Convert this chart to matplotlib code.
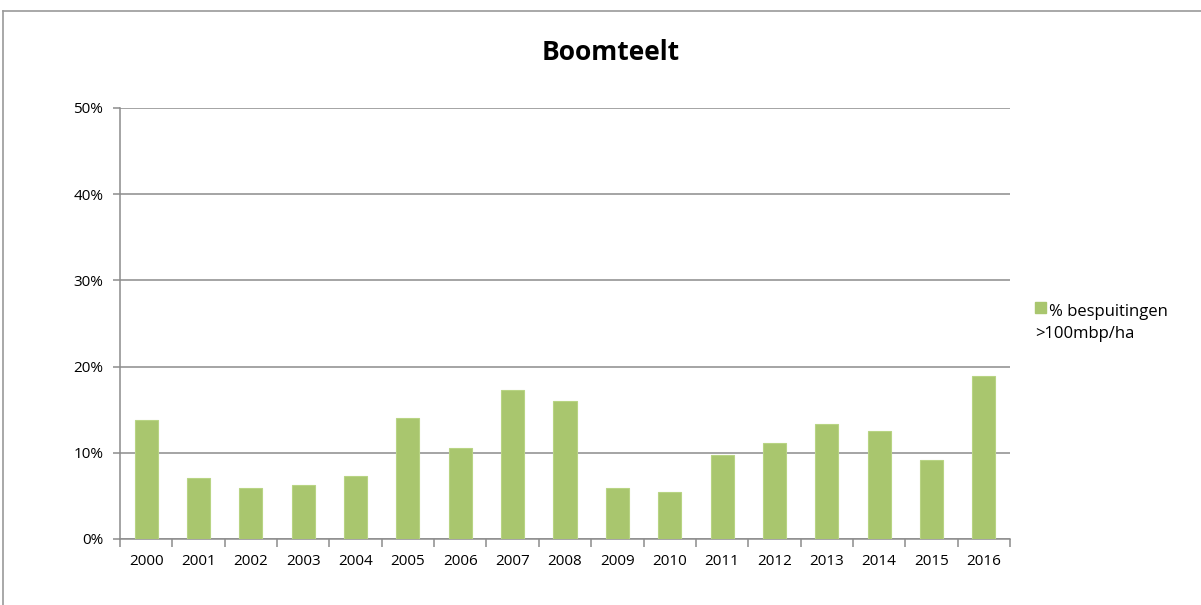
import matplotlib
matplotlib.use("Agg")
import matplotlib.pyplot as plt
from matplotlib.lines import Line2D
import numpy as np

years = ["2000", "2001", "2002", "2003", "2004", "2005", "2006", "2007", "2008",
         "2009", "2010", "2011", "2012", "2013", "2014", "2015", "2016"]
share = [13.8, 7.1, 5.9, 6.3, 7.3, 14.0, 10.6, 17.3, 16.0,
         5.9, 5.5, 9.8, 11.1, 13.3, 12.5, 9.2, 18.9]
y_ticks = [0, 10, 20, 30, 40, 50]
y_labels = ["0%", "10%", "20%", "30%", "40%", "50%"]
title = "Boomteelt"
series_label_1 = "% bespuitingen"
series_label_2 = ">100mbp/ha"

plt.rcParams["font.family"] = ["Open Sans", "DejaVu Sans"]

W, H = 1201, 605
fig = plt.figure(figsize=(W / 100, H / 100), dpi=100)
ax = fig.add_axes([120 / W, 1 - 539 / H, (1010 - 120) / W, (539 - 108) / H])

bar_color = "#A9C66E"
x = np.arange(len(years))
ax.bar(x, share, width=0.44, color=bar_color, edgecolor="#B8D483",
       linewidth=0.8, zorder=3)

ax.set_xlim(-0.5, len(years) - 0.5)
ax.set_ylim(0, 50)
ax.set_yticks(y_ticks)
ax.set_yticklabels(y_labels, fontsize=11)
ax.yaxis.grid(True, color="#8C8C8C", linewidth=1.1, zorder=1)
ax.set_axisbelow(True)

ax.set_xticks(x)
ax.set_xticklabels(years, fontsize=11)
ax.tick_params(axis="x", length=0, pad=11)
ax.set_xticks(np.arange(-0.5, len(years)), minor=True)
ax.tick_params(axis="x", which="minor", length=6, color="#8C8C8C", width=1.1,
               direction="out")
ax.tick_params(axis="y", length=5, color="#8C8C8C", width=1.1, pad=7)

for side in ("top", "right"):
    ax.spines[side].set_visible(False)
for side in ("left", "bottom"):
    ax.spines[side].set_color("#8C8C8C")
    ax.spines[side].set_linewidth(1.1)

fig.text(611 / W, 1 - 53 / H, title, fontsize=19, fontweight="bold",
         ha="center", va="center")

# legend
fig.patches.append(plt.Rectangle((1035 / W, 1 - 313 / H), 11 / W, 11 / H,
                                 transform=fig.transFigure, color=bar_color))
fig.text(1049 / W, 1 - 312 / H, series_label_1, fontsize=12, va="center")
fig.text(1035 / W, 1 - 334 / H, series_label_2, fontsize=12, va="center")

# chart area frame
fig.add_artist(Line2D([3 / W, 1], [1 - 11 / H, 1 - 11 / H],
                      transform=fig.transFigure, color="#9A9A9A", linewidth=1.2))
fig.add_artist(Line2D([3 / W, 3 / W], [0, 1 - 11 / H],
                      transform=fig.transFigure, color="#9A9A9A", linewidth=1.2))

fig.savefig("out.png", dpi=100)
